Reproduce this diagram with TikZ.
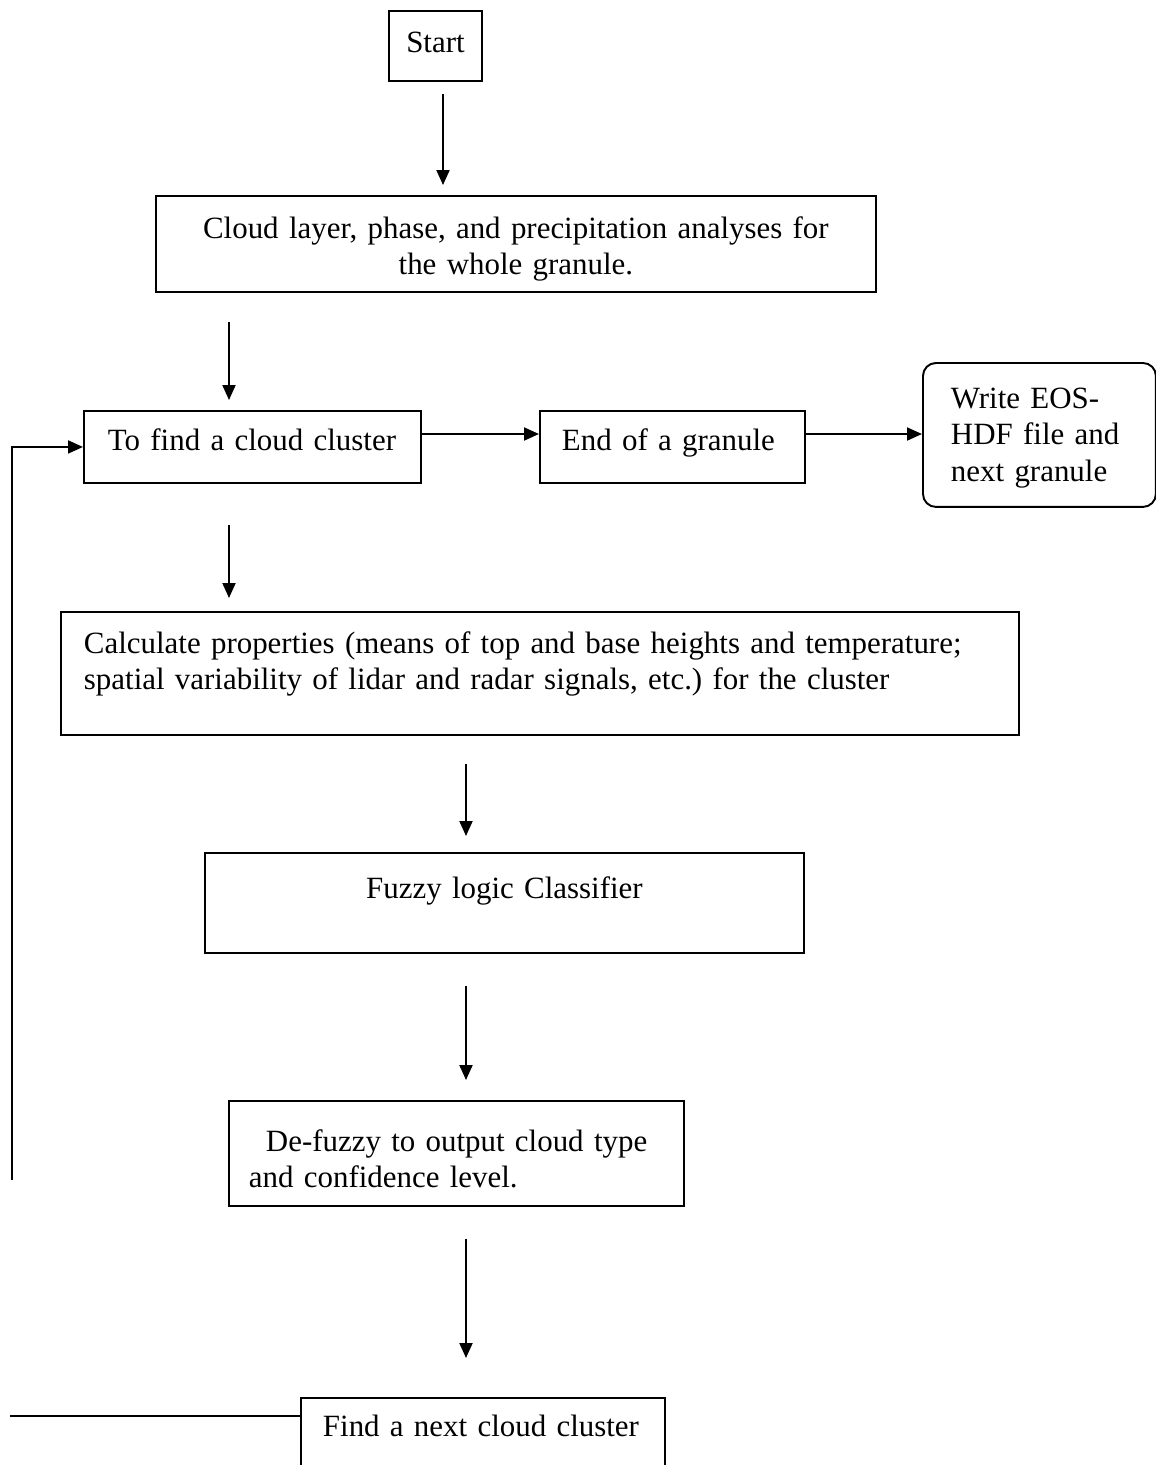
\documentclass[tikz,border=0pt]{standalone}
\usepackage{fontspec}
\setmainfont{Liberation Serif}
\usetikzlibrary{arrows.meta}

\newcommand{\boxfont}{\fontsize{17.6}{20.5}\selectfont\frenchspacing\hyphenpenalty=10000\relax}
\tikzset{
  box/.style={draw, line width=1.1pt, inner ysep=0pt, anchor=north west, font=\boxfont},
  flow/.style={line width=1.1pt, ->},
}

\begin{document}
\begin{tikzpicture}[x=0.02cm, y=-0.02cm, >={Triangle[length=0.3cm, width=0.26cm]}]
  \clip (0,0) rectangle (1156,1465);

  % boxes
  \node[box, inner xsep=0pt, text width=1.86cm, align=center, text height=0.84cm, text depth=0.56cm] (start) at (388,10) {Start};
  \node[box, inner xsep=0pt, text width=14.4cm, align=center, text height=0.86cm, text depth=1.06cm] (cloud) at (155,195)
    {Cloud layer, phase, and precipitation analyses for\\ the whole granule.};
  \node[box, inner xsep=0.48cm, text width=5.78cm, align=left, text height=0.8cm, text depth=0.64cm] (tofind) at (83,410) {To find a cloud cluster};
  \node[box, inner xsep=0.44cm, text width=4.42cm, align=left, text height=0.8cm, text depth=0.64cm] (endgr) at (539,410) {End of a granule};
  \node[box, rounded corners=0.26cm, inner xsep=0.56cm, text width=3.54cm, align=left, text height=0.92cm, text depth=1.96cm] (write) at (922,362)
    {Write EOS-\\ HDF file and\\ next granule};
  \node[box, inner xsep=0.46cm, text width=18.24cm, align=left, text height=0.84cm, text depth=1.62cm] (calc) at (60,611)
    {Calculate properties (means of top and base heights and temperature;\\ spatial variability of lidar and radar signals, etc.) for the cluster};
  \node[box, inner xsep=0pt, text width=11.98cm, align=center, text height=0.92cm, text depth=1.08cm] (fuzzy) at (204,852) {Fuzzy logic Classifier};
  \node[box, inner xsep=0.4cm, text width=8.3cm, align=left, text height=1.02cm, text depth=1.08cm] (defuzzy) at (228,1100)
    {\hspace*{0.34cm}De-fuzzy to output cloud type\\ and confidence level.};
  \node[box, inner xsep=0.44cm, text width=6.4cm, align=left, text height=0.78cm, text depth=1.2cm] (find) at (300,1397) {Find a next cloud cluster};

  \coordinate (colS) at (443,0);
  \coordinate (colA) at (229,0);
  \coordinate (colB) at (466,0);
  \coordinate (rowA) at (0,434);
  \coordinate (loopend) at (12,1180);
  \coordinate (findend) at (10,1416);

  % arrows
  \draw[flow, shorten <=0.24cm, shorten >=0.2cm] (start.south -| colS) -- (cloud.north -| colS);
  \draw[flow, shorten <=0.58cm, shorten >=0.2cm] (cloud.south -| colA) -- (tofind.north -| colA);
  \draw[flow] (tofind.east |- rowA) -- (endgr.west |- rowA);
  \draw[flow] (endgr.east |- rowA) -- (write.west |- rowA);
  \draw[flow, shorten <=0.82cm, shorten >=0.26cm] (tofind.south -| colA) -- (calc.north -| colA);
  \draw[flow, shorten <=0.56cm, shorten >=0.32cm] (calc.south -| colB) -- (fuzzy.north -| colB);
  \draw[flow, shorten <=0.64cm, shorten >=0.4cm] (fuzzy.south -| colB) -- (defuzzy.north -| colB);
  \draw[flow, shorten <=0.64cm, shorten >=0.78cm] (defuzzy.south -| colB) -- (find.north -| colB);
  \draw[flow] (loopend) |- (tofind.west);
  \draw[line width=1.1pt] (findend) -- (findend -| find.west);
\end{tikzpicture}
\end{document}
